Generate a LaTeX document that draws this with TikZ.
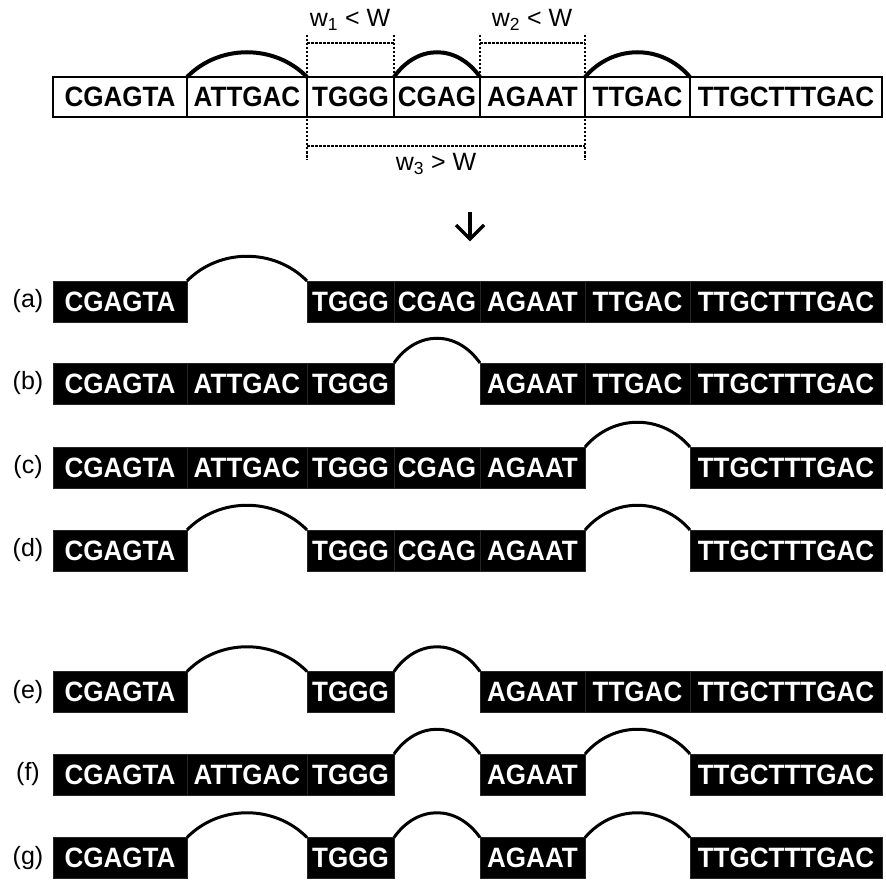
\documentclass[tikz,border=0pt]{standalone}
\usepackage{fontspec}
\setmainfont{Liberation Sans}
\newfontfamily\seqfamily[FakeStretch=0.93]{Liberation Sans}
\usetikzlibrary{calc}
\newcommand\gaparc[3]{% style, start point, end point
  \draw[#1] (#2) .. controls ($(#2)!0.27!(#3)+(0,-33)$) and ($(#2)!0.73!(#3)+(0,-33)$) .. (#3);}
\begin{document}
\begin{tikzpicture}[x=1pt,y=-1pt,
  seqfont/.style={font=\seqfamily\fontsize{28}{32}\selectfont\bfseries},
  cellw/.style={seqfont, draw=black, line width=1.8pt, fill=white, inner sep=0pt, outer sep=0pt, minimum height=40pt, anchor=west},
  cellb/.style={seqfont, draw=black!85, line width=0.6pt, fill=black, text=white, inner sep=0pt, outer sep=0pt, minimum height=41pt, anchor=west},
  wA/.style={minimum width=134pt}, wB/.style={minimum width=120pt}, wC/.style={minimum width=87pt},
  wD/.style={minimum width=86pt}, wE/.style={minimum width=105pt}, wF/.style={minimum width=105pt},
  wG/.style={minimum width=192pt},
  rowlabel/.style={font=\fontsize{25}{30}\selectfont, inner sep=0pt},
  wlabel/.style={font=\fontsize{25}{30}\selectfont, inner sep=0pt},
  toparc/.style={line width=4pt},
  gap/.style={line width=3pt},
  guide/.style={line width=1.2pt, dash pattern=on 2.5pt off 1.5pt}]
\useasboundingbox (0,0) rectangle (886,880);
\fill[white] (0,0) rectangle (886,880);

% top sequence
\node[cellw,wA] (t1) at (53,97) {CGAGTA};
\node[cellw,wB] (t2) at (187,97) {ATTGAC};
\node[cellw,wC] (t3) at (307,97) {TGGG};
\node[cellw,wD] (t4) at (394,97) {CGAG};
\node[cellw,wE] (t5) at (480,97) {AGAAT};
\node[cellw,wF] (t6) at (585,97) {TTGAC};
\node[cellw,wG] (t7) at (690,97) {TTGCTTTGAC};
\gaparc{toparc}{t2.north west}{t2.north east}
\gaparc{toparc}{t4.north west}{t4.north east}
\gaparc{toparc}{t6.north west}{t6.north east}

% window guides
\coordinate (g1t) at (307,35); \coordinate (g1b) at (307,160);
\coordinate (g2t) at (394,35);
\coordinate (g3t) at (480,35);
\coordinate (g4t) at (585,35); \coordinate (g4b) at (585,160);
\coordinate (h1a) at (307,43); \coordinate (h1b) at (394,43);
\coordinate (h2a) at (480,43); \coordinate (h2b) at (585,43);
\coordinate (h3a) at (307,146); \coordinate (h3b) at (585,146);
\draw[guide] (g1t) -- (g1b);
\draw[guide] (g2t) -- (t4.north west);
\draw[guide] (g3t) -- (t5.north west);
\draw[guide] (g4t) -- (g4b);
\draw[guide] (h1a) -- (h1b);
\draw[guide] (h2a) -- (h2b);
\draw[guide] (h3a) -- (h3b);
\node[wlabel] (w1) at (350,20) {w\textsubscript{1} < W};
\node[wlabel] (w2) at (532,20) {w\textsubscript{2} < W};
\node[wlabel] (w3) at (436,164) {w\textsubscript{3} > W};

% arrow
\coordinate (arrT) at (470,212);
\coordinate (arrB) at (470,239);
\coordinate (arrL) at (456,225);
\coordinate (arrR) at (484,225);
\draw[line width=3.5pt] (arrT) -- (arrB);
\draw[line width=3.5pt, line join=miter] (arrL) -- (arrB) -- (arrR);

% (a)
\node[rowlabel] (la) at (28,301.5) {(a)};
\node[cellb,wA] (a1) at (53,301.5) {CGAGTA};
\node[cellb,wC] (a3) at (307,301.5) {TGGG};
\node[cellb,wD] (a4) at (394,301.5) {CGAG};
\node[cellb,wE] (a5) at (480,301.5) {AGAAT};
\node[cellb,wF] (a6) at (585,301.5) {TTGAC};
\node[cellb,wG] (a7) at (690,301.5) {TTGCTTTGAC};
\gaparc{gap}{a1.north east}{a3.north west}

% (b)
\node[rowlabel] (lb) at (28,383.5) {(b)};
\node[cellb,wA] (b1) at (53,383.5) {CGAGTA};
\node[cellb,wB] (b2) at (187,383.5) {ATTGAC};
\node[cellb,wC] (b3) at (307,383.5) {TGGG};
\node[cellb,wE] (b5) at (480,383.5) {AGAAT};
\node[cellb,wF] (b6) at (585,383.5) {TTGAC};
\node[cellb,wG] (b7) at (690,383.5) {TTGCTTTGAC};
\gaparc{gap}{b3.north east}{b5.north west}

% (c)
\node[rowlabel] (lc) at (28,467.5) {(c)};
\node[cellb,wA] (c1) at (53,467.5) {CGAGTA};
\node[cellb,wB] (c2) at (187,467.5) {ATTGAC};
\node[cellb,wC] (c3) at (307,467.5) {TGGG};
\node[cellb,wD] (c4) at (394,467.5) {CGAG};
\node[cellb,wE] (c5) at (480,467.5) {AGAAT};
\node[cellb,wG] (c7) at (690,467.5) {TTGCTTTGAC};
\gaparc{gap}{c5.north east}{c7.north west}

% (d)
\node[rowlabel] (ld) at (28,550.5) {(d)};
\node[cellb,wA] (d1) at (53,550.5) {CGAGTA};
\node[cellb,wC] (d3) at (307,550.5) {TGGG};
\node[cellb,wD] (d4) at (394,550.5) {CGAG};
\node[cellb,wE] (d5) at (480,550.5) {AGAAT};
\node[cellb,wG] (d7) at (690,550.5) {TTGCTTTGAC};
\gaparc{gap}{d1.north east}{d3.north west}
\gaparc{gap}{d5.north east}{d7.north west}

% (e)
\node[rowlabel] (le) at (28,692) {(e)};
\node[cellb,wA] (e1) at (53,692) {CGAGTA};
\node[cellb,wC] (e3) at (307,692) {TGGG};
\node[cellb,wE] (e5) at (480,692) {AGAAT};
\node[cellb,wF] (e6) at (585,692) {TTGAC};
\node[cellb,wG] (e7) at (690,692) {TTGCTTTGAC};
\gaparc{gap}{e1.north east}{e3.north west}
\gaparc{gap}{e3.north east}{e5.north west}

% (f)
\node[rowlabel] (lf) at (28,774.5) {(f)};
\node[cellb,wA] (f1) at (53,774.5) {CGAGTA};
\node[cellb,wB] (f2) at (187,774.5) {ATTGAC};
\node[cellb,wC] (f3) at (307,774.5) {TGGG};
\node[cellb,wE] (f5) at (480,774.5) {AGAAT};
\node[cellb,wG] (f7) at (690,774.5) {TTGCTTTGAC};
\gaparc{gap}{f3.north east}{f5.north west}
\gaparc{gap}{f5.north east}{f7.north west}

% (g)
\node[rowlabel] (lg) at (28,858) {(g)};
\node[cellb,wA] (g1) at (53,858) {CGAGTA};
\node[cellb,wC] (g3) at (307,858) {TGGG};
\node[cellb,wE] (g5) at (480,858) {AGAAT};
\node[cellb,wG] (g7) at (690,858) {TTGCTTTGAC};
\gaparc{gap}{g1.north east}{g3.north west}
\gaparc{gap}{g3.north east}{g5.north west}
\gaparc{gap}{g5.north east}{g7.north west}
\end{tikzpicture}
\end{document}
